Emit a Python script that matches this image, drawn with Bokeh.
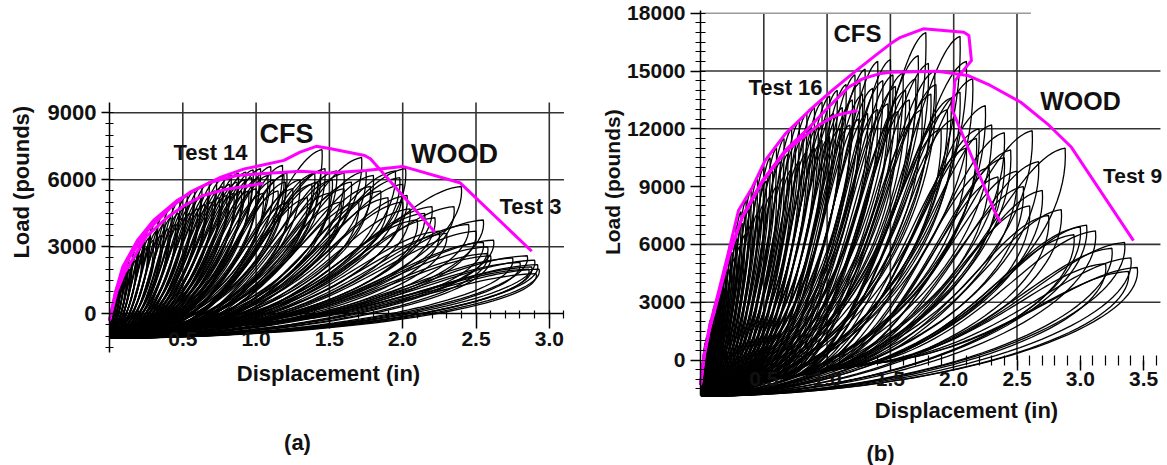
import numpy as np
from bokeh.plotting import figure
from bokeh.models import (LinearAxis, FixedTicker, Label, Range1d, NumeralTickFormatter)
from bokeh.layouts import row
from bokeh.embed import file_html
from bokeh.resources import INLINE

FONT = "Liberation Sans"
MAGENTA = "#ff00ff"
GRID = "#333333"

# ---------------- panel (a) data ----------------
a_x_ticks = [0.5, 1.0, 1.5, 2.0, 2.5, 3.0]
a_x_labels = ["0.5", "1.0", "1.5", "2.0", "2.5", "3.0"]
a_y_ticks = [0, 3000, 6000, 9000]
a_y_labels = ["0", "3000", "6000", "9000"]
a_grid_y = [3000, 6000, 9000]
a_grid_x = [0.5, 1.0, 1.5, 2.0, 2.5, 3.0]

# backbone curves (magenta)
a_cfs_x = [0.0, 0.04, 0.09, 0.19, 0.30, 0.46, 0.60, 0.76, 0.92, 1.03, 1.19, 1.30, 1.41, 1.51, 1.74, 1.78, 2.22]
a_cfs_y = [-300, 950, 2100, 3280, 4180, 5070, 5600, 6120, 6490, 6640, 6870, 7240, 7500, 7390, 7090, 6940, 3650]
a_wood_x = [0.0, 0.04, 0.09, 0.13, 0.26, 0.42, 0.55, 0.69, 0.87, 1.03, 1.30, 1.50, 1.75, 2.00, 2.39, 2.88]
a_wood_y = [-300, 900, 1860, 2460, 3730, 4770, 5450, 5890, 6190, 6270, 6380, 6300, 6420, 6600, 5870, 2800]
a_env2_x = [0.0, 0.05, 0.10, 0.25, 0.40, 0.51, 0.64, 0.78, 0.92, 1.05]
a_env2_y = [-300, 1000, 1800, 3450, 4350, 4850, 5300, 5550, 5700, 5850]

# hysteresis cycle peaks (black loops)
a_peak_x = [0.05, 0.08, 0.10, 0.13, 0.16, 0.20, 0.24, 0.28, 0.33, 0.38, 0.43, 0.48, 0.53, 0.58, 0.63,
            0.68, 0.73, 0.78, 0.83, 0.88, 0.93, 0.98, 1.03, 1.10, 1.18, 1.21, 1.40, 1.45, 1.47, 1.55,
            1.60, 1.72, 1.80, 1.95, 2.00, 2.02, 2.20, 2.25, 2.40, 2.55, 2.58, 2.60, 2.85, 2.90, 2.92, 2.93,
            0.06, 0.09, 0.11, 0.14, 0.18, 0.22, 0.26, 0.30, 0.35, 0.40, 0.45, 0.50, 0.55, 0.60, 0.65,
            0.70, 0.75, 0.80, 0.85, 0.90, 0.95, 1.00, 1.05, 1.15, 1.20, 1.22, 1.35, 1.42, 1.50, 1.60,
            1.70, 1.78, 1.90, 2.00, 2.05, 2.15, 2.30, 2.45, 2.55, 2.58, 2.80, 2.88,
            0.04, 0.07, 0.12, 0.15, 0.19, 0.23, 0.27, 0.32, 0.37, 0.42, 0.47, 0.52, 0.57, 0.62, 0.67,
            0.72, 0.77, 0.82, 0.87, 0.92, 0.97, 1.02, 1.08, 1.12, 1.19, 1.25, 1.30, 1.38, 1.44, 1.52,
            1.58, 1.65, 1.75, 1.85, 1.98, 2.03, 2.10, 2.22, 2.35, 2.50, 2.62, 2.75, 2.86, 2.91]
a_peak_y = [1200, 1800, 2100, 2500, 2900, 3300, 3600, 3900, 4300, 4600, 4900, 5100, 5300, 5500, 5700,
            5900, 6000, 6100, 6200, 6300, 6350, 6450, 6500, 6600, 6650, 6300, 6300, 7350, 6500, 6400,
            6300, 7000, 6200, 6400, 5800, 6500, 4800, 3700, 5700, 4200, 3000, 2600, 2600, 2400, 2200, 2000,
            900, 1400, 1700, 2000, 2400, 2700, 3000, 3300, 3500, 3800, 4000, 4300, 4500, 4700, 4900,
            5000, 5200, 5300, 5400, 5500, 5500, 5600, 5400, 5500, 5900, 5000, 5200, 5900, 5400, 5600,
            5000, 5700, 5200, 5000, 4700, 4500, 3600, 4000, 3200, 2700, 2300, 2100,
            800, 1300, 1900, 2300, 2700, 3100, 3400, 3700, 4000, 4300, 4500, 4800, 5000, 5200, 5400,
            5500, 5700, 5800, 5900, 6000, 6100, 6100, 6200, 6000, 6200, 5600, 6000, 5800, 6400, 6000,
            5000, 5900, 6400, 5500, 6100, 5300, 4200, 4300, 4800, 3700, 3300, 2500, 2000, 1800]
# lower edge of the loop cloud
a_low_x = [0.0, 1.5, 2.1, 2.5, 2.95]
a_low_y = [-1000, -150, 600, 1200, 2000]

# ---------------- panel (b) data ----------------
b_x_ticks = [0.5, 1.0, 1.5, 2.0, 2.5, 3.0, 3.5]
b_x_labels = ["0.5", "1.0", "1.5", "2.0", "2.5", "3.0", "3.5"]
b_y_ticks = [0, 3000, 6000, 9000, 12000, 15000, 18000]
b_y_labels = ["0", "3000", "6000", "9000", "12000", "15000", "18000"]
b_grid_y = [3000, 6000, 12000, 15000]
b_grid_x = [0.5, 1.0, 1.5, 2.0, 2.5]

b_cfs_x = [0.0, 0.03, 0.07, 0.145, 0.225, 0.30, 0.41, 0.51, 0.67, 0.86, 1.04, 1.23, 1.38, 1.50, 1.58,
           1.76, 2.08, 2.12, 2.14, 2.01, 1.99, 2.32, 2.37]
b_cfs_y = [-1300, 300, 1700, 3600, 5700, 7760, 8970, 10350, 11740, 12950, 13990, 15020, 15800, 16410, 16750,
           17190, 17010, 16840, 15540, 14500, 12950, 7760, 7150]
b_wood_x = [0.0, 0.03, 0.07, 0.145, 0.225, 0.33, 0.41, 0.49, 0.67, 0.86, 1.01, 1.17, 1.28, 1.41, 1.50,
            1.87, 2.11, 2.29, 2.53, 2.74, 2.93, 3.42]
b_wood_y = [-1300, 250, 1600, 3450, 5450, 7450, 8400, 9320, 10880, 12080, 13120, 14160, 14590, 14850, 14940,
            14990, 14770, 14250, 13380, 12260, 11040, 6200]
b_env2_x = [0.0, 0.03, 0.07, 0.145, 0.225, 0.33, 0.49, 0.67, 0.80, 0.935, 1.066, 1.24]
b_env2_y = [-1300, 250, 1550, 3400, 5400, 7400, 9250, 10800, 11500, 12200, 12690, 12950]

b_peak_x = [0.05, 0.08, 0.11, 0.14, 0.17, 0.20, 0.24, 0.28, 0.32, 0.36, 0.40, 0.45, 0.50, 0.55, 0.60,
            0.66, 0.72, 0.78, 0.84, 0.90, 0.96, 1.02, 1.08, 1.15, 1.22, 1.26, 1.30, 1.40, 1.50, 1.52,
            1.60, 1.72, 1.78, 1.80, 1.85, 2.05, 2.10, 1.98, 2.15, 2.25, 2.30, 2.40, 2.45, 2.62, 2.67,
            2.88, 3.05, 3.12, 3.35, 3.40, 3.45,
            0.06, 0.09, 0.12, 0.15, 0.19, 0.23, 0.27, 0.31, 0.35, 0.40, 0.45, 0.50, 0.55, 0.60, 0.66,
            0.72, 0.78, 0.84, 0.90, 0.96, 1.02, 1.10, 1.18, 1.25, 1.32, 1.40, 1.48, 1.56, 1.65, 1.75,
            1.82, 1.90, 2.00, 2.10, 2.20, 2.28, 2.35, 2.55, 2.60, 2.75, 2.95, 3.00, 3.25, 3.38,
            0.04, 0.07, 0.10, 0.13, 0.16, 0.18, 0.21, 0.25, 0.29, 0.33, 0.38, 0.42, 0.47, 0.52, 0.57,
            0.63, 0.69, 0.75, 0.81, 0.87, 0.93, 0.99, 1.05, 1.12, 1.20, 1.28, 1.36, 1.44, 1.54, 1.62,
            1.70, 1.86, 1.95, 2.05, 2.18, 2.40, 2.50, 2.70, 2.85, 3.20]
b_peak_y = [1200, 2100, 2800, 3400, 4200, 5000, 6100, 7000, 7700, 8300, 8800, 9400, 10000, 10500, 11000,
            11500, 12000, 12400, 12800, 13100, 13400, 13700, 14000, 14300, 14800, 14400, 15100, 15500, 15600, 14800,
            14900, 15800, 17000, 15400, 15000, 16800, 15500, 13600, 14600, 13200, 12200, 11800, 10900, 11900, 10300,
            11000, 7000, 6700, 6100, 5300, 4800,
            1000, 1800, 2400, 3000, 3700, 4700, 5300, 5900, 6500, 7000, 7600, 8100, 8500, 9000, 9500,
            9900, 10300, 10800, 11000, 11400, 11600, 12000, 12200, 12500, 12800, 13000, 13300, 12900, 13500, 13000,
            13800, 12000, 12500, 11000, 12000, 10000, 9500, 9000, 8000, 7500, 6500, 6900, 5800, 4600,
            900, 1500, 2300, 2900, 3500, 3900, 4700, 5600, 6300, 7100, 7800, 8300, 8900, 9300, 9800,
            10300, 10700, 11200, 11600, 12000, 12200, 12500, 12800, 13100, 13500, 13800, 14100, 14500, 14200, 14000,
            14600, 14300, 13000, 13900, 11500, 10500, 9800, 8800, 7800, 5000]
b_low_x = [0.0, 0.6, 1.5, 2.5, 3.1, 3.5]
b_low_y = [-1800, -1050, 0, 1350, 2900, 3500]

# ---------------- geometry (frame = whole canvas) ----------------
A = dict(W=587, H=465, off=0, x0px=109, xs=146.6, y0px=313.3, ys=67.0 / 3000, xend=3.10, yb=(-1733, 9461))
B = dict(W=580, H=465, off=587, x0px=113, xs=126.6, y0px=359.5, ys=57.8 / 3000, xend=3.633, yb=(-1842, 18139))


def ranges(g):
    xr = (-g["x0px"] / g["xs"], (g["W"] - g["x0px"]) / g["xs"])
    yr = (-(g["H"] - g["y0px"]) / g["ys"], g["y0px"] / g["ys"])
    return xr, yr


def to_data(g, px, py):
    return (px - g["off"] - g["x0px"]) / g["xs"], (g["y0px"] - py) / g["ys"]


def make_fig(g):
    xr, yr = ranges(g)
    p = figure(width=g["W"], height=g["H"], x_range=Range1d(*xr), y_range=Range1d(*yr),
               output_backend="svg", toolbar_location=None, x_axis_location=None, y_axis_location=None,
               min_border=0, min_border_left=0, min_border_right=0, min_border_top=0, min_border_bottom=0)
    if p.title is not None:
        p.title.visible = False
    p.grid.visible = False
    p.outline_line_color = None
    p.background_fill_color = "white"
    p.border_fill_color = "white"
    return p


def style_axis(ax, size):
    ax.axis_line_color = "black"
    ax.axis_line_width = 1.5
    ax.major_tick_line_color = "black"
    ax.major_tick_line_width = 1.5
    ax.minor_tick_line_color = "black"
    ax.minor_tick_line_width = 1.2
    ax.major_label_text_font = FONT
    ax.major_label_text_font_style = "bold"
    ax.major_label_text_font_size = f"{size}px"
    ax.major_label_text_color = "#111111"


def add_text(p, g, px, py, text, size, angle=0.0):
    x, y = to_data(g, px, py)
    p.add_layout(Label(x=x, y=y, text=text, text_font=FONT, text_font_style="bold",
                       text_font_size=f"{size}px", text_align="center", text_baseline="middle",
                       angle=angle, text_color="#111111"))


def bez(p0, c0, c1, p1, t):
    u = 1 - t
    return u ** 3 * p0 + 3 * u * u * t * c0 + 3 * u * t * t * c1 + t ** 3 * p1


def add_loops(p, pk_x, pk_y, low_x, low_y, s_frac, s_off, end_pt, lw):
    xp = np.asarray(pk_x, float)[:, None]
    yp = np.asarray(pk_y, float)[:, None]
    sx = s_frac * xp + s_off
    sy = np.interp(sx, low_x, low_y)
    dx, dy = xp - sx, yp - sy
    ex, ey = end_pt
    ddx, ddy = xp - ex, yp - ey
    t = np.linspace(0, 1, 40)[None, :]
    # reloading branch (pinched, rounded top)
    lx = bez(sx, sx + 0.5 * dx, xp - 0.25 * dx, xp, t)
    ly = bez(sy, sy + 0.12 * dy, yp - 0.04 * dy, yp, t)
    # unloading branch (steep drop, long tail)
    ux = bez(xp, xp + 0.02 * ddx, ex + 0.6 * ddx, ex, t)
    uy = bez(yp, yp - 0.45 * ddy, ey + 0.02 * ddy, ey, t)
    X = np.hstack([lx, ux[:, 1:]])
    Y = np.hstack([ly, uy[:, 1:]])
    Y = np.where(X < 0, np.nan, Y)
    X = np.where(X < 0, np.nan, X)
    p.multi_line(xs=[r for r in X], ys=[r for r in Y], line_color="black", line_width=lw)


def add_grid(p, gx, gy, ytop, xend):
    p.segment(x0=gx, y0=[0] * len(gx), x1=gx, y1=[ytop] * len(gx), line_color=GRID, line_width=1.6)
    p.segment(x0=[0] * len(gy), y0=gy, x1=[xend] * len(gy), y1=gy, line_color=GRID, line_width=1.6)


# ================= panel (a) =================
pa = make_fig(A)
add_grid(pa, a_grid_x, a_grid_y, A["yb"][1], A["xend"])
add_loops(pa, a_peak_x, a_peak_y, a_low_x, a_low_y, 0.3, -0.05, (-0.05, -1100), 1.3)

for xs, ys in ((a_env2_x, a_env2_y), (a_wood_x, a_wood_y), (a_cfs_x, a_cfs_y)):
    pa.line(xs, ys, line_color=MAGENTA, line_width=3, line_join="round")

ya = LinearAxis(fixed_location=0, bounds=A["yb"],
                ticker=FixedTicker(ticks=a_y_ticks, minor_ticks=list(range(-1500, 9500, 500))),
                major_label_overrides={t: l for t, l in zip(a_y_ticks, a_y_labels)})
style_axis(ya, 22)
ya.major_tick_out, ya.major_tick_in = 8, 0
ya.minor_tick_out, ya.minor_tick_in = 4, 4
ya.major_label_standoff = 5
pa.add_layout(ya, "left")

xa = LinearAxis(fixed_location=0, bounds=(0, A["xend"]),
                ticker=FixedTicker(ticks=a_x_ticks, minor_ticks=[round(0.1 * i, 1) for i in range(1, 32)]),
                formatter=NumeralTickFormatter(format="0.0"),
                major_label_overrides={t: l for t, l in zip(a_x_ticks, a_x_labels)})
style_axis(xa, 21)
xa.major_tick_out, xa.major_tick_in = 15, 0
xa.minor_tick_out, xa.minor_tick_in = 5, 3
xa.major_label_standoff = 3
pa.add_layout(xa, "below")

add_text(pa, A, 20.6, 181.7, "Load (pounds)", 22, angle=np.pi / 2)
add_text(pa, A, 328, 373, "Displacement (in)", 22)
add_text(pa, A, 297, 442, "(a)", 22)
add_text(pa, A, 286, 133, "CFS", 27)
add_text(pa, A, 210, 152, "Test 14", 22)
add_text(pa, A, 454, 153, "WOOD", 27)
add_text(pa, A, 530, 206, "Test 3", 22)

# ================= panel (b) =================
pb = make_fig(B)
add_grid(pb, b_grid_x, b_grid_y, 18000, B["xend"])
pb.segment(x0=[0], y0=[18000], x1=[2.61], y1=[18000], line_color="#9a9a9a", line_width=1.6)
add_loops(pb, b_peak_x, b_peak_y, b_low_x, b_low_y, 0.4, -0.05, (-0.05, -1900), 1.3)

for xs, ys in ((b_env2_x, b_env2_y), (b_wood_x, b_wood_y), (b_cfs_x, b_cfs_y)):
    pb.line(xs, ys, line_color=MAGENTA, line_width=3, line_join="round")

yb = LinearAxis(fixed_location=0, bounds=B["yb"],
                ticker=FixedTicker(ticks=b_y_ticks, minor_ticks=list(range(-1500, 18500, 500))),
                major_label_overrides={t: l for t, l in zip(b_y_ticks, b_y_labels)})
style_axis(yb, 21)
yb.major_tick_out, yb.major_tick_in = 10, 0
yb.minor_tick_out, yb.minor_tick_in = 5, 5
yb.major_label_standoff = 5
pb.add_layout(yb, "left")

xb = LinearAxis(fixed_location=0, bounds=(0, B["xend"]),
                ticker=FixedTicker(ticks=b_x_ticks, minor_ticks=[round(0.1 * i, 1) for i in range(1, 37)]),
                formatter=NumeralTickFormatter(format="0.0"),
                major_label_overrides={t: l for t, l in zip(b_x_ticks, b_x_labels)})
style_axis(xb, 21)
xb.axis_line_alpha = 0
xb.major_tick_out, xb.major_tick_in = 10, 0
xb.minor_tick_out, xb.minor_tick_in = 5, 5
xb.major_label_standoff = 2
pb.add_layout(xb, "below")

add_text(pb, B, 612, 181.7, "Load (pounds)", 21, angle=np.pi / 2)
add_text(pb, B, 966, 410, "Displacement (in)", 22)
add_text(pb, B, 880, 453, "(b)", 22)
add_text(pb, B, 857, 33, "CFS", 24)
add_text(pb, B, 785, 87, "Test 16", 22)
add_text(pb, B, 1080, 100, "WOOD", 25)
add_text(pb, B, 1132, 175, "Test 9", 21)

layout = row(pa, pb)
open("out.html", "w").write(file_html(layout, INLINE))
